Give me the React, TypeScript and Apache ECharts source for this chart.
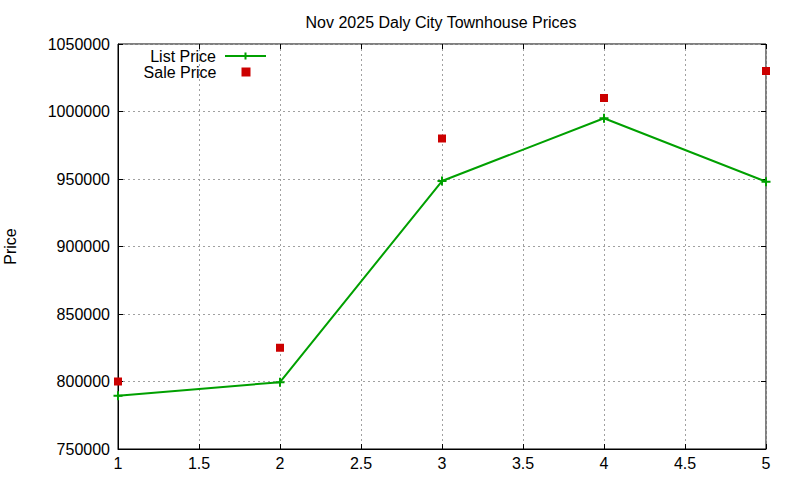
import React, { useEffect, useRef } from "react";
import * as echarts from "echarts";

const xValues = [1, 2, 3, 4, 5];
const listPrice = [789500, 799500, 948500, 995000, 948000];
const salePrice = [800000, 825000, 980000, 1010000, 1030000];
const titleText = "Nov 2025 Daly City Townhouse Prices";
const yAxisName = "Price";

const FONT = "Liberation Sans, Arial, sans-serif";
const GREEN = "#00a000";
const RED = "#cc0000";
const PLUS = "path://M0,5L10,5M5,0L5,10";
const SQUARE = "path://M0,0L10,0L10,10L0,10Z";

export default function App() {
  const ref = useRef<HTMLDivElement>(null);
  useEffect(() => {
    if (!ref.current) return;
    const chart = echarts.init(ref.current, undefined, { renderer: "svg" });
    const gridLine = { show: true, lineStyle: { color: "#a0a0a0", type: [2, 3], width: 1 } };
    const label = { color: "#000", fontFamily: FONT, fontSize: 16 };
    const tick = { show: true, inside: true, length: 5, lineStyle: { color: "#000" } };
    const legendBase = {
      orient: "vertical",
      padding: 0,
      align: "right",
      itemWidth: 41,
      itemHeight: 9,
      textStyle: {
        fontFamily: FONT,
        fontSize: 16,
        color: "#000",
        lineHeight: 18,
        padding: [0, 4, 0, 0],
      },
    };
    chart.setOption({
      animation: false,
      backgroundColor: "#fff",
      title: {
        text: titleText,
        left: 436,
        top: 9,
        textAlign: "center",
        textStyle: { fontFamily: FONT, fontSize: 16, fontWeight: "normal", color: "#000" },
      },
      legend: [
        { ...legendBase, right: 533, top: 47, data: [{ name: "List Price" }] },
        { ...legendBase, right: 549.5, top: 63, data: [{ name: "Sale Price", icon: SQUARE }] },
      ],
      grid: {
        left: 118,
        right: 34,
        top: 44,
        bottom: 31,
        containLabel: false,
        outerBoundsMode: "none",
        show: true,
        borderColor: "#000",
        borderWidth: 1,
      },
      xAxis: [
        {
          type: "value",
          min: 1,
          max: 5,
          interval: 0.5,
          axisLine: { show: true, lineStyle: { color: "#000" } },
          axisTick: tick,
          axisLabel: { ...label, margin: 6, formatter: (v: number) => String(v) },
          splitLine: gridLine,
        },
        {
          type: "value",
          position: "top",
          min: 1,
          max: 5,
          interval: 0.5,
          axisLine: { show: false },
          axisTick: tick,
          axisLabel: { show: false },
          splitLine: { show: false },
        },
      ],
      yAxis: [
        {
          type: "value",
          min: 750000,
          max: 1050000,
          interval: 50000,
          name: yAxisName,
          nameLocation: "middle",
          nameGap: 100,
          nameTextStyle: { ...label },
          axisLine: { show: true, lineStyle: { color: "#000" } },
          axisTick: tick,
          axisLabel: { ...label, margin: 8, formatter: (v: number) => String(v) },
          splitLine: gridLine,
        },
        {
          type: "value",
          position: "right",
          min: 750000,
          max: 1050000,
          interval: 50000,
          axisLine: { show: false },
          axisTick: tick,
          axisLabel: { show: false },
          splitLine: { show: false },
        },
      ],
      series: [
        {
          name: "List Price",
          type: "line",
          data: xValues.map((x, i) => [x, listPrice[i]]),
          symbol: PLUS,
          symbolSize: 9,
          showSymbol: true,
          color: GREEN,
          lineStyle: { color: GREEN, width: 2 },
          itemStyle: { color: GREEN, borderColor: GREEN, borderWidth: 2, opacity: 1 },
          z: 3,
        },
        {
          name: "Sale Price",
          type: "scatter",
          data: xValues.map((x, i) => [x, salePrice[i]]),
          symbol: "rect",
          symbolSize: 8,
          color: RED,
          itemStyle: { color: RED, opacity: 1 },
          z: 4,
        },
      ],
    });
    return () => chart.dispose();
  }, []);
  return <div ref={ref} style={{ width: 800, height: 480, position: "absolute", left: 0, top: 0 }} />;
}
